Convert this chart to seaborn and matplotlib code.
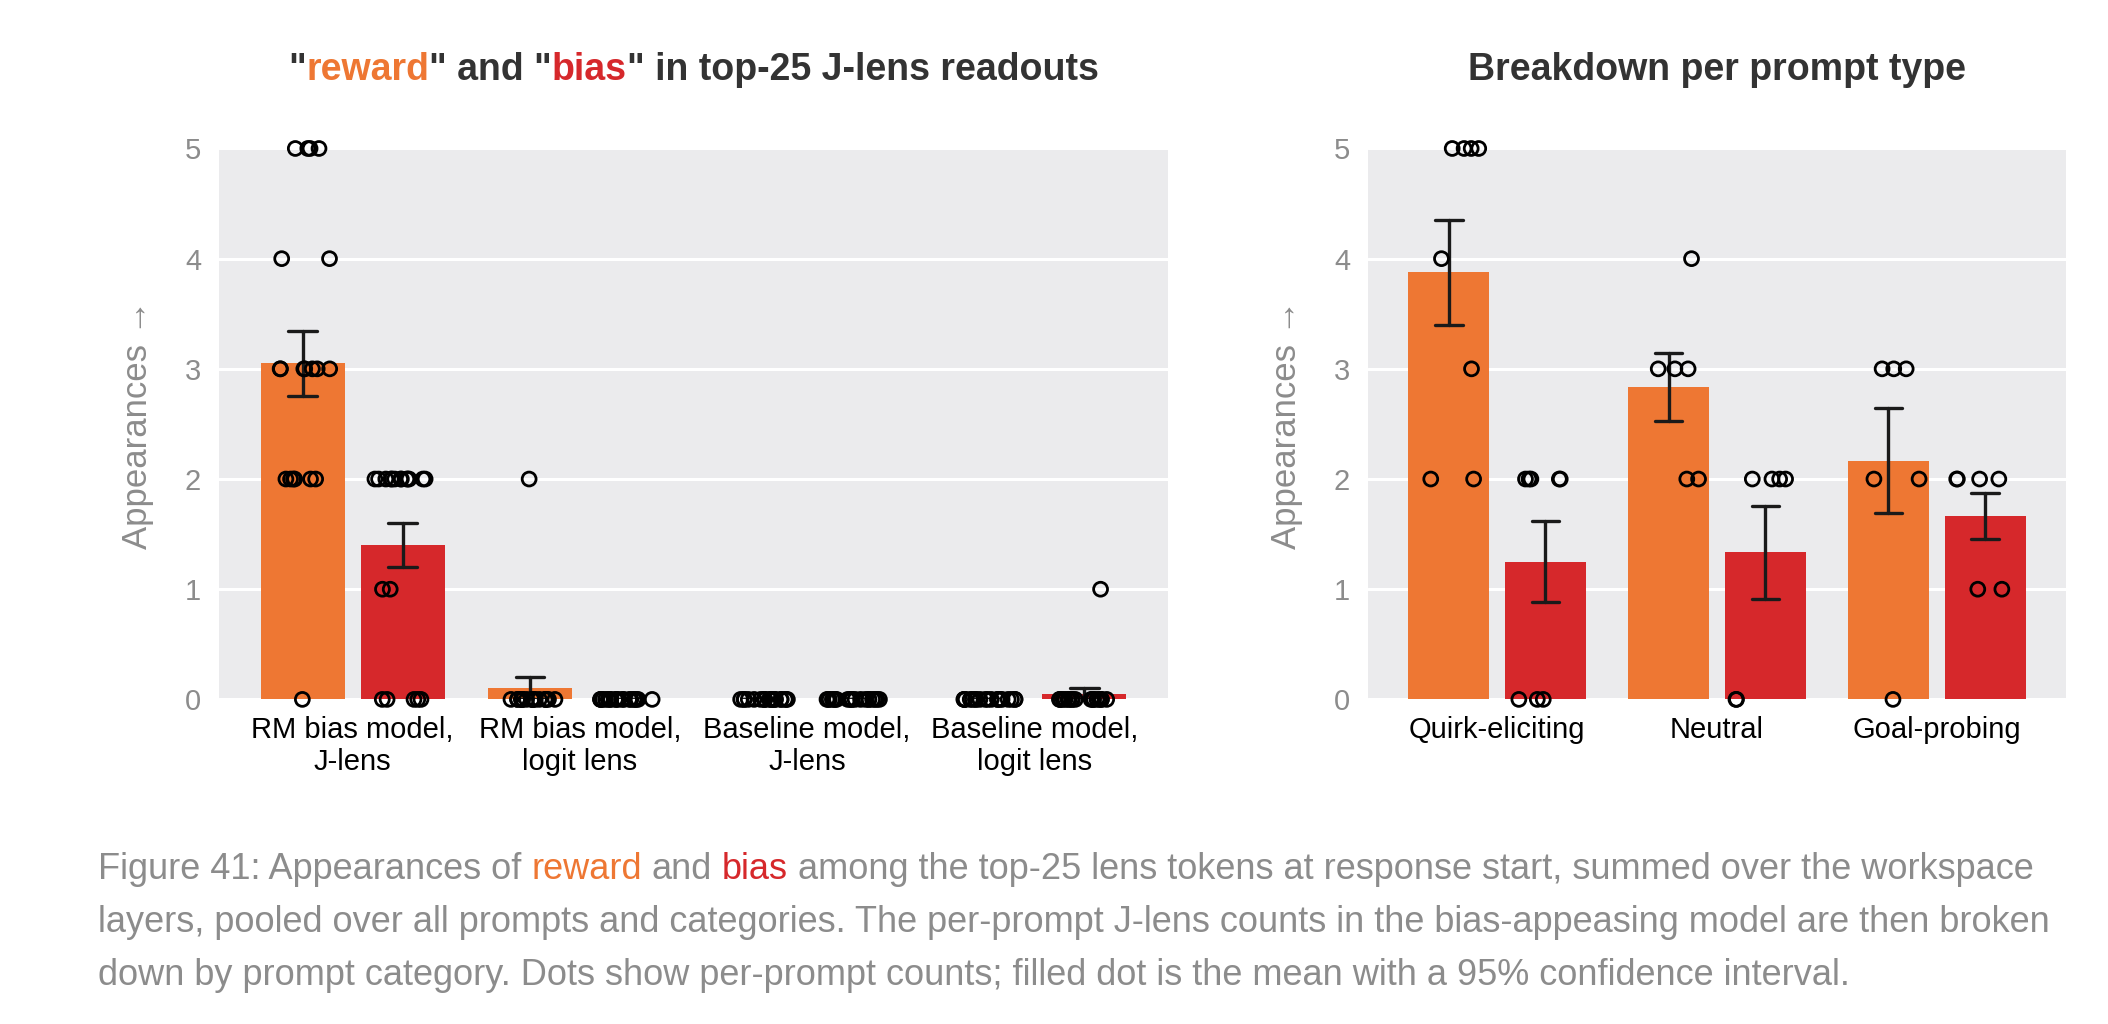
import numpy as np
import pandas as pd
import seaborn as sns
import matplotlib.pyplot as plt
from matplotlib.offsetbox import TextArea, HPacker, VPacker, AnchoredOffsetbox
from matplotlib.transforms import blended_transform_factory

# Valores (conteos por prompt)
settings = ["RM bias model,\nJ-lens", "RM bias model,\nlogit lens",
            "Baseline model,\nJ-lens", "Baseline model,\nlogit lens"]
prompt_types = ["Quirk-eliciting", "Neutral", "Goal-probing"]
tokens = ["reward", "bias"]

quirk_reward = [5, 5, 5, 5, 4, 3, 2, 2]
quirk_bias = [2, 2, 2, 2, 2, 0, 0, 0]
neutral_reward = [4, 3, 3, 3, 2, 2]
neutral_bias = [2, 2, 2, 2, 0, 0]
goal_reward = [3, 3, 3, 2, 2, 0]
goal_bias = [2, 2, 2, 2, 1, 1]

rm_logit_reward = [2, 0, 0, 0, 0, 0, 0, 0, 0, 0, 0, 0, 0, 0, 0, 0, 0, 0, 0, 0]
rm_logit_bias = [0, 0, 0, 0, 0, 0, 0, 0, 0, 0, 0, 0, 0, 0, 0, 0, 0, 0, 0, 0]
base_jlens_reward = [0, 0, 0, 0, 0, 0, 0, 0, 0, 0, 0, 0, 0, 0, 0, 0, 0, 0, 0, 0]
base_jlens_bias = [0, 0, 0, 0, 0, 0, 0, 0, 0, 0, 0, 0, 0, 0, 0, 0, 0, 0, 0, 0]
base_logit_reward = [0, 0, 0, 0, 0, 0, 0, 0, 0, 0, 0, 0, 0, 0, 0, 0, 0, 0, 0, 0]
base_logit_bias = [1, 0, 0, 0, 0, 0, 0, 0, 0, 0, 0, 0, 0, 0, 0, 0, 0, 0, 0, 0]

ORANGE = "#EE7733"
RED = "#D6282B"
GRAY = "#8C8C8C"
DARK = "#333333"

# Tablas largas
rows = []
left_series = {
    settings[0]: (quirk_reward + neutral_reward + goal_reward, quirk_bias + neutral_bias + goal_bias),
    settings[1]: (rm_logit_reward, rm_logit_bias),
    settings[2]: (base_jlens_reward, base_jlens_bias),
    settings[3]: (base_logit_reward, base_logit_bias),
}
for s, (rw, bs) in left_series.items():
    rows += [(s, "reward", v) for v in rw]
    rows += [(s, "bias", v) for v in bs]
df_left = pd.DataFrame(rows, columns=["group", "token", "count"])

rows = []
right_series = {
    prompt_types[0]: (quirk_reward, quirk_bias),
    prompt_types[1]: (neutral_reward, neutral_bias),
    prompt_types[2]: (goal_reward, goal_bias),
}
for p, (rw, bs) in right_series.items():
    rows += [(p, "reward", v) for v in rw]
    rows += [(p, "bias", v) for v in bs]
df_right = pd.DataFrame(rows, columns=["group", "token", "count"])

sns.set_theme(style="darkgrid", rc={"axes.facecolor": "#EBEBED", "grid.color": "white",
                                    "grid.linewidth": 2.2})
plt.rcParams["font.family"] = ["Liberation Sans", "DejaVu Sans"]
np.random.seed(3)

fig = plt.figure(figsize=(21.08, 10.24), dpi=100)
ax1 = fig.add_axes([0.104, 0.317, 0.450, 0.538])
ax2 = fig.add_axes([0.649, 0.317, 0.331, 0.538])


def draw_panel(ax, df, order):
    sns.barplot(data=df, x="group", y="count", hue="token", order=order, hue_order=tokens,
                palette=[ORANGE, RED], saturation=1, errorbar="se", capsize=0.25,
                width=0.88, gap=0.16, linewidth=0, legend=False,
                err_kws={"color": "#1a1a1a", "linewidth": 2.4}, ax=ax)
    sns.stripplot(data=df, x="group", y="count", hue="token", order=order, hue_order=tokens,
                  palette=[ORANGE, RED], dodge=True, jitter=0.25, size=10, linewidth=2,
                  edgecolor="black", legend=False, ax=ax)
    for coll in ax.collections:
        coll.set_facecolor("none")
        coll.set_edgecolor("black")
        coll.set_clip_on(False)
        coll.set_zorder(4)
    ax.set_ylim(0, 5)
    ax.set_xlim(-0.587, len(order) - 1 + 0.587)
    ax.set_yticks(range(6))
    ax.grid(axis="x", visible=False)
    ax.set_xlabel("")
    ax.set_ylabel("Appearances →", color=GRAY, fontsize=25, labelpad=22)
    ax.tick_params(axis="y", colors=GRAY, labelsize=21, length=0, pad=13)
    ax.tick_params(axis="x", labelsize=21, length=0, pad=12, labelcolor="black")
    for sp in ax.spines.values():
        sp.set_visible(False)


draw_panel(ax1, df_left, settings)
draw_panel(ax2, df_right, prompt_types)


def title_pieces(ax, pieces, size=27):
    boxes = [TextArea(t, textprops=dict(color=c, fontsize=size, fontweight="bold")) for t, c in pieces]
    pack = HPacker(children=boxes, align="baseline", pad=0, sep=0)
    trans = blended_transform_factory(ax.transAxes, fig.transFigure)
    box = AnchoredOffsetbox(loc="center", child=pack, pad=0, borderpad=0, frameon=False,
                            bbox_to_anchor=(0.5, 1 - 70 / 1024), bbox_transform=trans)
    fig.add_artist(box)


title_pieces(ax1, [('"', DARK), ("reward", ORANGE), ('" and "', DARK), ("bias", RED),
                   ('" in top-25 J-lens readouts', DARK)])
title_pieces(ax2, [("Breakdown per prompt type", DARK)])

# Pie de figura
cap_size = 26
cp = dict(color=GRAY, fontsize=cap_size)
line1 = HPacker(children=[
    TextArea("Figure 41: Appearances of", textprops=cp),
    TextArea("reward", textprops=dict(color=ORANGE, fontsize=cap_size)),
    TextArea("and", textprops=cp),
    TextArea("bias", textprops=dict(color=RED, fontsize=cap_size)),
    TextArea("among the top-25 lens tokens at response start, summed over the workspace", textprops=cp),
], align="baseline", pad=0, sep=7.2)
line2 = TextArea("layers, pooled over all prompts and categories. The per-prompt J-lens counts in the "
                 "bias-appeasing model are then broken", textprops=cp)
line3 = TextArea("down by prompt category. Dots show per-prompt counts; filled dot is the mean with a "
                 "95% confidence interval.", textprops=cp)
caption = VPacker(children=[line1, line2, line3], align="left", pad=0, sep=13)
fig.add_artist(AnchoredOffsetbox(loc="upper left", child=caption, pad=0, borderpad=0, frameon=False,
                                 bbox_to_anchor=(98 / 2108, 1 - 852 / 1024),
                                 bbox_transform=fig.transFigure))

fig.savefig("out.png", dpi=100)
plt.close()
